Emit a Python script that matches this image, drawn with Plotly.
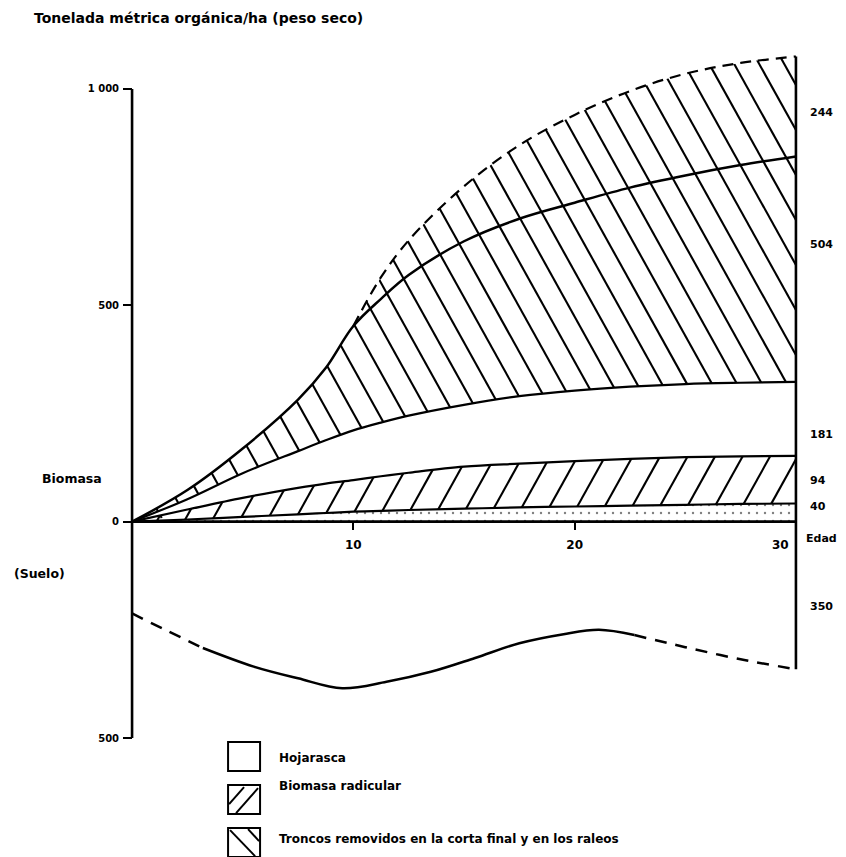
import numpy as np
import plotly.graph_objects as go

# ---------------- data ----------------
edad = [0, 2.5, 5, 7.5, 8.75, 10, 11.25, 12.5, 15, 17.5, 20, 22.5, 25, 27.5, 30]
# cumulative upper boundaries of each layer (t/ha, dry weight)
mantillo_sup = [0, 5, 11, 17, 20, 23, 25, 27, 30, 33, 35, 37, 39, 41, 42]
raices_sup = [0, 28, 55, 78, 88, 96, 105, 113, 127, 134, 140, 145, 149, 151, 152]
hojarasca_sup = [0, 52, 112, 163, 188, 211, 229, 245, 270, 290, 303, 312, 318, 321, 323]
troncos_sup = [0, 73, 169, 282, 355, 452, 515, 570, 648, 700, 737, 772, 800, 824, 844]
total_sup = [0, 73, 169, 282, 355, 452, 565, 650, 775, 870, 940, 995, 1035, 1060, 1075]

edad_suelo = [0, 1.5, 3.2, 5.5, 7.5, 9.5, 11.5, 13.5, 15.5, 17.5, 19.5, 21.1, 22.7, 25, 27.5, 30]
suelo = [-212, -250, -292, -335, -362, -385, -370, -347, -315, -281, -260, -250, -262, -290, -318, -341]
suelo_solido = (3.2, 22.7)   # solid part of the soil curve, dashed outside
total_discontinuo_desde = 10  # top curve is dashed from this age on

y_ticks = [1000, 500, 0, -500]
y_ticktext = ["1 000", "500", "0", "500"]
x_ticks = [10, 20]
x_ticktext = ["10", "20"]

etiquetas_derecha = ["244", "504", "181", "94", "40"]
leyenda = ["Hojarasca", "Biomasa radicular",
           "Troncos removidos en la corta final y en los raleos"]

# ---------------- layout geometry ----------------
OFF = 8                      # page body margin of the browser
FONT = "DejaVu Sans"
W, H = 838, 849
XR = [-0.5, 30.5]
YR = [-560, 1120]
ML, MR, MT, MB = 112.9, 38.9, 28.8, 93.1
PW, PH = W - ML - MR, H - MT - MB
SX = PW / (XR[1] - XR[0])    # px per year
SY = PH / (YR[1] - YR[0])    # px per t/ha
BLK = "black"
LW = 2.2

fig = go.Figure()


def hatch(lower, upper, slope_px, spacing_px, direction, phase=0.0):
    """straight hatch segments between two boundaries (direction -1: '\\', +1: '/')."""
    k = direction * slope_px * SX / SY
    grid = np.linspace(edad[0], edad[-1], 3001)
    lo = np.maximum(lower(grid), 0)
    hi = upper(grid)
    vmax = hi.max()
    step = spacing_px / SX
    if direction < 0:
        cs = np.arange(edad[0] + phase, edad[-1] + vmax / abs(k) + step, step)
    else:
        cs = np.arange(edad[0] - vmax / k + phase, edad[-1] + step, step)
    xs, ys = [], []
    for c in cs:
        v = k * (grid - c)
        inside = (v >= lo) & (v <= hi)
        if not inside.any():
            continue
        idx = np.where(inside)[0]
        runs = np.split(idx, np.where(np.diff(idx) > 1)[0] + 1)
        for r in runs:
            if len(r) < 2:
                continue
            xs += [grid[r[0]], grid[r[-1]], None]
            ys += [v[r[0]], v[r[-1]], None]
    return xs, ys


def f(arr, margin=0.0):
    return lambda g: np.interp(g, edad, arr) + margin


# "\" hatch: stems band (hojarasca top -> total top)
hx, hy = hatch(f(hojarasca_sup, -20), f(total_sup, 30), 1.8, 25, -1, 0.3)
fig.add_trace(go.Scatter(x=hx, y=hy, mode="lines", line=dict(color=BLK, width=2.1),
                         showlegend=False, hoverinfo="skip"))
# "/" hatch: root band (mantillo top -> raices top)
hx, hy = hatch(f(mantillo_sup, -8), f(raices_sup, 12), 1.8, 27.5, 1, 0.4)
fig.add_trace(go.Scatter(x=hx, y=hy, mode="lines", line=dict(color=BLK, width=2.1),
                         showlegend=False, hoverinfo="skip"))

# white masks (same spline paths as the boundary lines)
fig.add_trace(go.Scatter(x=edad, y=raices_sup, mode="lines", line=dict(width=0, shape="spline"),
                         showlegend=False, hoverinfo="skip"))
fig.add_trace(go.Scatter(x=edad, y=hojarasca_sup, mode="lines", line=dict(width=0, shape="spline"),
                         fill="tonexty", fillcolor="white", showlegend=False, hoverinfo="skip"))
fig.add_trace(go.Scatter(x=edad, y=total_sup, mode="lines", line=dict(width=0, shape="spline"),
                         showlegend=False, hoverinfo="skip"))
fig.add_trace(go.Scatter(x=edad, y=[YR[1]] * len(edad), mode="lines", line=dict(width=0),
                         fill="tonexty", fillcolor="white", showlegend=False, hoverinfo="skip"))
# dotted litter strip
fig.add_trace(go.Scatter(x=edad, y=[0] * len(edad), mode="lines", line=dict(width=0),
                         showlegend=False, hoverinfo="skip"))
fig.add_trace(go.Scatter(x=edad, y=mantillo_sup, mode="lines", line=dict(width=0, shape="spline"),
                         fill="tonexty", fillcolor="white",
                         fillpattern=dict(shape=".", size=8, solidity=0.07, fgcolor=BLK, bgcolor="white"),
                         showlegend=False, hoverinfo="skip"))

# boundary lines
for arr, w in [(mantillo_sup, LW), (raices_sup, LW), (hojarasca_sup, LW), (troncos_sup, LW + 0.3)]:
    fig.add_trace(go.Scatter(x=edad, y=arr, mode="lines", line=dict(color=BLK, width=w, shape="spline"),
                             showlegend=False))
idx = [i for i, a in enumerate(edad) if a >= total_discontinuo_desde]
fig.add_trace(go.Scatter(x=[edad[i] for i in idx], y=[total_sup[i] for i in idx], mode="lines",
                         line=dict(color=BLK, width=LW, shape="spline", dash="11px,7px"), showlegend=False))

# soil curve: dashed / solid / dashed
lo_s, hi_s = suelo_solido
for cond, dash in [(lambda a: a <= lo_s, "12px,9px"),
                   (lambda a: lo_s <= a <= hi_s, "solid"),
                   (lambda a: a >= hi_s, "12px,9px")]:
    xs = [a for a in edad_suelo if cond(a)]
    ys = [v for a, v in zip(edad_suelo, suelo) if cond(a)]
    fig.add_trace(go.Scatter(x=xs, y=ys, mode="lines",
                             line=dict(color=BLK, width=LW + 0.3, shape="spline", dash=dash),
                             showlegend=False))

# axis lines
fig.add_trace(go.Scatter(x=[0, 0], y=[max(y_ticks), min(y_ticks)], mode="lines",
                         line=dict(color=BLK, width=2.6), showlegend=False))
fig.add_trace(go.Scatter(x=[edad[0], edad[-1]], y=[0, 0], mode="lines",
                         line=dict(color=BLK, width=2.6), showlegend=False))
fig.add_trace(go.Scatter(x=[edad[-1], edad[-1]], y=[total_sup[-1], suelo[-1]], mode="lines",
                         line=dict(color=BLK, width=2.6), showlegend=False))

BOLD = dict(family=FONT, color=BLK, weight="bold")
fig.update_layout(
    width=W, height=H, margin=dict(l=ML, r=MR, t=MT, b=MB, autoexpand=False),
    paper_bgcolor="white", plot_bgcolor="white", showlegend=False,
    font=dict(family=FONT, size=11, color=BLK),
    xaxis=dict(range=XR, showgrid=False, zeroline=False, showline=False,
               tickvals=x_ticks, ticktext=x_ticktext, ticks="outside", ticklen=7, tickwidth=1.5,
               tickcolor=BLK, anchor="free", position=(0 - YR[0]) / (YR[1] - YR[0]),
               ticklabelstandoff=5, tickfont=dict(BOLD, size=12)),
    yaxis=dict(range=YR, showgrid=False, zeroline=False, showline=False,
               tickvals=y_ticks, ticktext=y_ticktext, ticks="outside", ticklen=9, tickwidth=1.8,
               tickcolor=BLK, anchor="free", position=(0 - XR[0]) / (XR[1] - XR[0]),
               ticklabelstandoff=2, tickfont=dict(BOLD, size=10)),
)


def px(xr):
    return (xr - OFF - ML) / PW


def py(yr):
    return (H - MB - (yr - OFF)) / PH


ann = []
ann.append(dict(text="Tonelada métrica orgánica/ha (peso seco)", x=px(32), y=py(18),
                xanchor="left", yanchor="middle", font=dict(BOLD, size=14)))
ann.append(dict(text="Biomasa", x=px(40), y=py(478), xanchor="left", yanchor="middle",
                font=dict(BOLD, size=12.5)))
ann.append(dict(text="(Suelo)", x=px(12), y=py(573), xanchor="left", yanchor="middle",
                font=dict(BOLD, size=12.5)))
right_y = {"244": 112, "504": 244, "181": 434, "94": 480, "40": 506}
for lab in etiquetas_derecha:
    ann.append(dict(text=lab, x=px(808), y=py(right_y[lab]), xanchor="left", yanchor="middle",
                    font=dict(BOLD, size=11)))
ann.append(dict(text="Edad", x=px(804), y=py(538), xanchor="left", yanchor="middle",
                font=dict(BOLD, size=11)))
ann.append(dict(text="30", x=px(791), y=py(545), xanchor="right", yanchor="middle",
                font=dict(BOLD, size=12)))
ann.append(dict(text="350", x=px(808), y=py(606), xanchor="left", yanchor="middle",
                font=dict(BOLD, size=11)))
leg_y = [758, 786, 839]
for lab, yy in zip(leyenda, leg_y):
    ann.append(dict(text=lab, x=px(277), y=py(yy), xanchor="left", yanchor="middle",
                    font=dict(BOLD, size=12)))
for a in ann:
    a.setdefault("xref", "paper")
    a.setdefault("yref", "paper")
    a["showarrow"] = False
fig.update_layout(annotations=ann)

# legend boxes (drawn with shapes)
shapes = []


def box(x0, y0, x1, y1):
    shapes.append(dict(type="rect", xref="paper", yref="paper", x0=px(x0), x1=px(x1), y0=py(y1), y1=py(y0),
                       line=dict(color=BLK, width=2), fillcolor="white", layer="above"))


def ln(x0, y0, x1, y1):
    shapes.append(dict(type="line", xref="paper", yref="paper", x0=px(x0), x1=px(x1), y0=py(y0), y1=py(y1),
                       line=dict(color=BLK, width=2), layer="above"))


box(228, 742, 260, 771)
box(228, 785, 260, 814)
ln(229, 804, 244, 787)
ln(236, 813, 258, 788)
box(228, 828, 260, 857)
ln(230, 830, 255, 856)
ln(248, 829, 259, 841)
fig.update_layout(shapes=shapes)

fig.write_html("out.html")
